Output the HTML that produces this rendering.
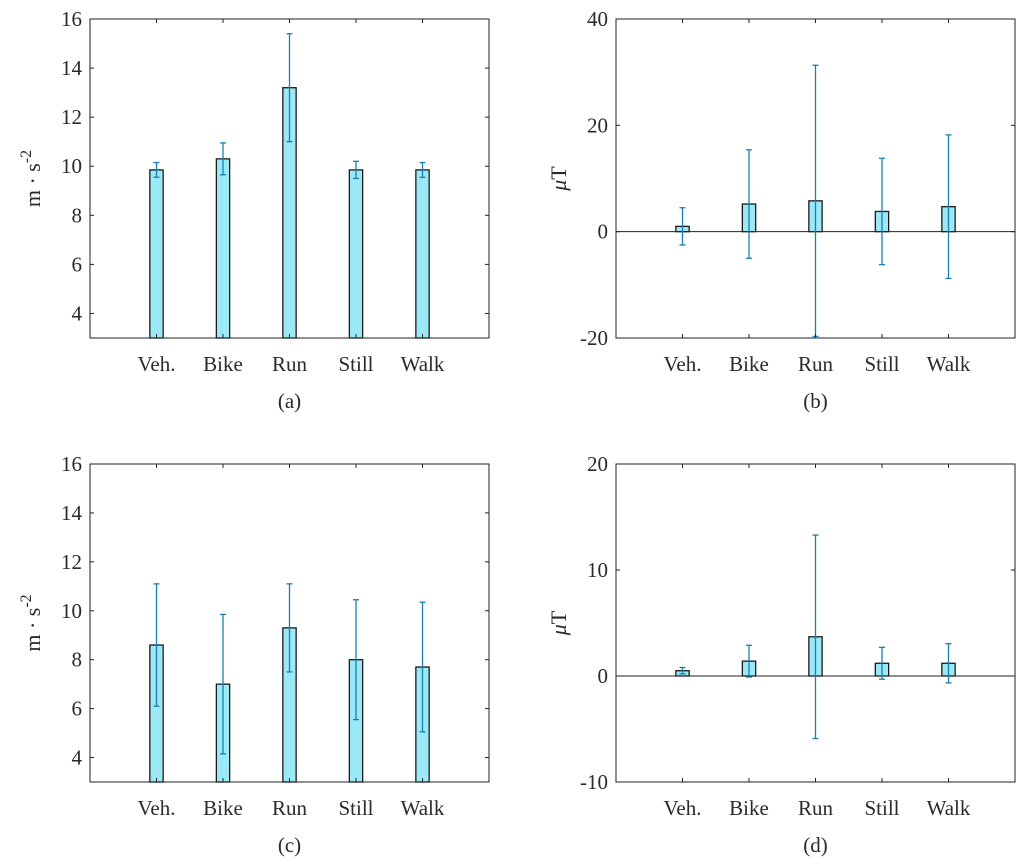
<!DOCTYPE html>
<html><head><meta charset="utf-8"><style>
html,body{margin:0;padding:0;background:#fff;width:1024px;height:866px;overflow:hidden}
svg{display:block}
text{font-family:"Liberation Serif",serif;fill:#2a2a2a}
</style></head><body>
<svg id="fig" width="1024" height="866" viewBox="0 0 1024 866" xmlns="http://www.w3.org/2000/svg"></svg>
<script>
const categories = ["Veh.","Bike","Run","Still","Walk"];
const aMeans = [9.85,10.3,13.2,9.85,9.85];
const aErrs = [0.3,0.65,2.2,0.35,0.3];
const bMeans = [1.0,5.2,5.8,3.8,4.7];
const bErrs = [3.5,10.2,25.5,10.0,13.5];
const cMeans = [8.6,7.0,9.3,8.0,7.7];
const cErrs = [2.5,2.85,1.8,2.45,2.65];
const dMeans = [0.5,1.4,3.7,1.2,1.2];
const dErrs = [0.3,1.5,9.6,1.5,1.85];
const acTicks = [4,6,8,10,12,14,16];
const bTicks = [-20,0,20,40];
const dTicks = [-10,0,10,20];

const NS="http://www.w3.org/2000/svg";
const svg=document.getElementById('fig');
function mk(tag,attrs,parent){const e=document.createElementNS(NS,tag);for(const k in attrs)e.setAttribute(k,attrs[k]);(parent||svg).appendChild(e);return e;}

function panel(id,L,T,R,B,ymin,ymax,ticks,means,errs,caption,unit){
  const g=mk('g',{});
  
  
  const xs=v=>L+(R-L)*v/6;
  const ys=v=>B-(B-T)*(v-ymin)/(ymax-ymin);
  mk('rect',{x:L,y:T,width:R-L,height:B-T,fill:'#fff',stroke:'none'},g);
  means.forEach((m,i)=>{
    const x=xs(i+1), base=Math.max(ymin,0), bw=(R-L)/6*0.2;
    const y1=ys(Math.max(m,base)), y0=ys(Math.min(m,base));
    const r=mk('rect',{x:x-bw/2,y:y1,width:bw,height:Math.max(y0-y1,0.5),fill:'#9be8f7',stroke:'#1a1a1a','stroke-width':1.3},g);
    
    
  });
  if(ymin<0){mk('line',{x1:L,x2:R,y1:ys(0),y2:ys(0),stroke:'#222','stroke-width':1},g);}
  means.forEach((m,i)=>{
    const x=xs(i+1), lo=ys(Math.max(m-errs[i],ymin)), hi=ys(Math.min(m+errs[i],ymax));
    const eg=mk('g',{stroke:'#1a7fb0','stroke-width':1.3},g);
    
    
    mk('line',{x1:x,x2:x,y1:lo,y2:hi},eg);
    mk('line',{x1:x-3,x2:x+3,y1:hi,y2:hi},eg);
    mk('line',{x1:x-3,x2:x+3,y1:lo,y2:lo},eg);
  });
  mk('rect',{x:L,y:T,width:R-L,height:B-T,fill:'none',stroke:'#222','stroke-width':1},g);
  ticks.forEach(t=>{
    const y=ys(t);
    mk('line',{x1:L,x2:L+4,y1:y,y2:y,stroke:'#222'},g);
    mk('line',{x1:R,x2:R-4,y1:y,y2:y,stroke:'#222'},g);
    const tx=mk('text',{x:L-8,y:y+7,'text-anchor':'end','font-size':21},g);
    tx.textContent=t;
    
    
  });
  categories.forEach((c,i)=>{
    const x=xs(i+1);
    mk('line',{x1:x,x2:x,y1:B,y2:B-4,stroke:'#222'},g);
    mk('line',{x1:x,x2:x,y1:T,y2:T+4,stroke:'#222'},g);
    const tx=mk('text',{x:x,y:B+33,'text-anchor':'middle','font-size':21},g);
    tx.textContent=c;
    
    
  });
  const cap=mk('text',{x:(L+R)/2,y:B+70,'text-anchor':'middle','font-size':21},g);
  cap.textContent=caption;
  
  
  const yl=mk('text',{transform:`translate(${L-50},${(T+B)/2}) rotate(-90)`,'text-anchor':'middle','font-size':22},g);
  
  
  if(unit==='acc'){
    yl.innerHTML='m · s<tspan dy="-9" font-size="16">-2</tspan>';
  } else {
    yl.innerHTML='<tspan font-style="italic">μ</tspan>T';
  }
}
panel('a',90,19,489,338,3,16,acTicks,aMeans,aErrs,'(a)','acc');
panel('b',616,19,1015,338,-20,40,bTicks,bMeans,bErrs,'(b)','mag');
panel('c',90,464,489,782,3,16,acTicks,cMeans,cErrs,'(c)','acc');
panel('d',616,464,1015,782,-10,20,dTicks,dMeans,dErrs,'(d)','mag');
</script>
</body></html>
